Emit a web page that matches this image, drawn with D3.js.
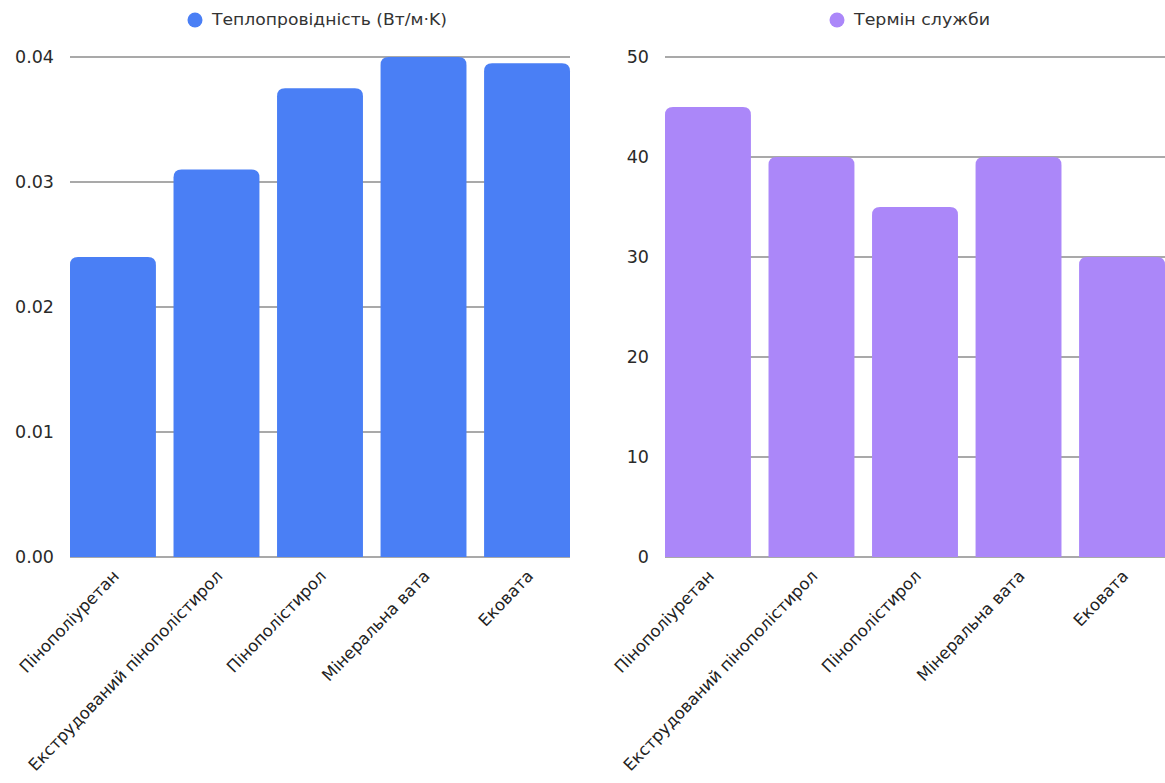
<!DOCTYPE html>
<html>
<head>
<meta charset="utf-8">
<script src="https://cdn.jsdelivr.net/npm/d3@7"></script>
<style>
  html, body { margin: 0; padding: 0; background: #fff; }
  svg { display: block; font-family: "DejaVu Sans", sans-serif; }
</style>
</head>
<body>
<svg id="chart" width="1165" height="783"></svg>
<script>
// Materials compared in both panels
const categories = ["Пінополіуретан", "Екструдований пінополістирол", "Пінополістирол", "Мінеральна вата", "Ековата"];
// Thermal conductivity, W/(m·K)
const conductivity = [0.024, 0.031, 0.0375, 0.040, 0.0395];
// Service life, years
const serviceLife = [45, 40, 35, 40, 30];
const conductivityTicks = [0, 0.01, 0.02, 0.03, 0.04];
const lifeTicks = [0, 10, 20, 30, 40, 50];
const conductivityLabel = "Теплопровідність (Вт/м·K)";
const lifeLabel = "Термін служби";

const svg = d3.select("#chart");

// Path for a bar with rounded top corners only
function topRoundedBar(x, y, w, h, r) {
  r = Math.min(r, h, w / 2);
  return `M${x},${y + h}V${y + r}Q${x},${y} ${x + r},${y}H${x + w - r}Q${x + w},${y} ${x + w},${y + r}V${y + h}Z`;
}

function panel(opts) {
  const g = svg.append("g");
  const x = d3.scaleBand().domain(categories).range([opts.x0, opts.x1]).paddingInner(0.17).paddingOuter(0);
  const y = d3.scaleLinear().domain([0, opts.max]).range([557, 57]);

  // horizontal gridlines
  g.append("g").selectAll("line").data(opts.ticks).join("line")
    .attr("x1", opts.x0).attr("x2", opts.x1)
    .attr("y1", d => y(d)).attr("y2", d => y(d))
    .attr("stroke", "#8c8c8c").attr("stroke-width", 1.3);

  // y axis labels
  const yAxis = d3.axisLeft(y).tickValues(opts.ticks).tickFormat(opts.fmt).tickSize(0).tickPadding(16);
  const ya = g.append("g").attr("transform", `translate(${opts.x0},0)`).call(yAxis);
  ya.attr("font-family", null).attr("font-size", null);
  ya.select(".domain").remove();
  ya.selectAll("text").attr("font-size", 17.5).attr("fill", "#2a2a2a");

  // bars
  g.append("g").selectAll("path").data(opts.values).join("path")
    .attr("d", (d, i) => {
      const bx = x(categories[i]);
      return topRoundedBar(bx, y(d), x.bandwidth(), y(0) - y(d), 8);
    })
    .attr("fill", opts.color);

  // x axis labels, rotated
  const xAxis = d3.axisBottom(x).tickSize(0).tickPadding(0);
  const xa = g.append("g").attr("transform", `translate(0,${y(0)})`).call(xAxis);
  xa.attr("font-family", null).attr("font-size", null);
  xa.select(".domain").remove();
  xa.selectAll("text")
    .attr("font-size", 16.5).attr("fill", "#222")
    .attr("text-anchor", "end")
    .attr("dy", "0.35em")
    .attr("transform", "translate(3,16) rotate(-46)");

  // legend
  const lg = g.append("g");
  lg.append("circle").attr("cx", opts.legendX).attr("cy", 20).attr("r", 7.5).attr("fill", opts.color);
  lg.append("text").attr("x", opts.legendX + 17).attr("y", 20).attr("dy", "0.35em")
    .attr("font-size", 15).attr("fill", "#333").text(opts.label)
    .attr("textLength", opts.legendW).attr("lengthAdjust", "spacingAndGlyphs");
}

panel({ x0: 70, x1: 570, max: 0.04, ticks: conductivityTicks, fmt: d3.format(".2f"),
        values: conductivity, color: "#4a7ff5", label: conductivityLabel, legendX: 195, legendW: 235 });
panel({ x0: 665, x1: 1165, max: 50, ticks: lifeTicks, fmt: d3.format("d"),
        values: serviceLife, color: "#ab87f9", label: lifeLabel, legendX: 837, legendW: 136 });
</script>
</body>
</html>
